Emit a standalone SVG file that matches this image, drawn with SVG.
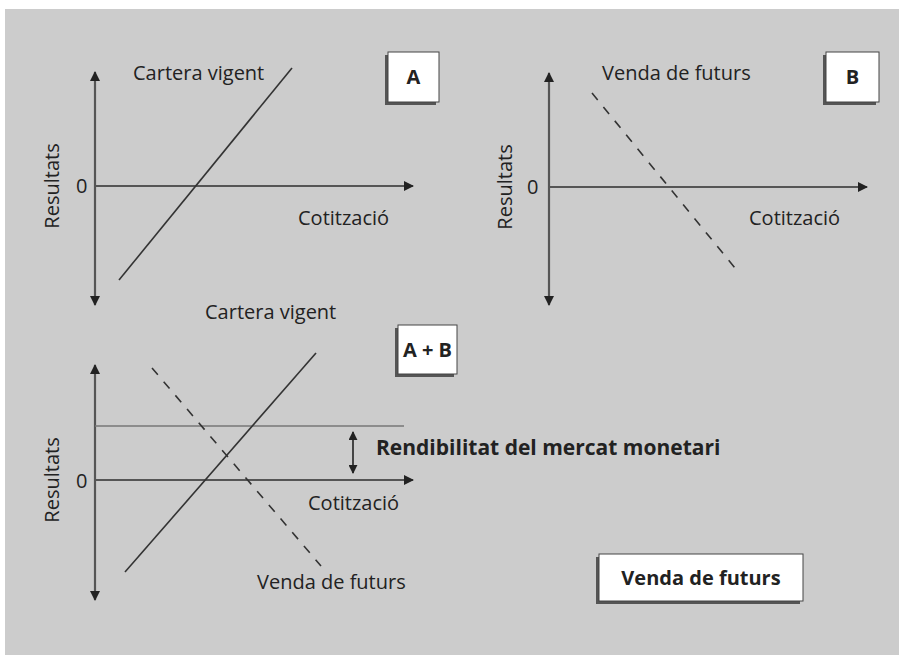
<svg xmlns="http://www.w3.org/2000/svg" width="899" height="655" viewBox="0 0 899 655">
<defs>
<marker id="ah" viewBox="0 0 10 10" refX="9" refY="5" markerWidth="10" markerHeight="10" markerUnits="userSpaceOnUse" orient="auto-start-reverse">
<path d="M0,0 L10,5 L0,10 z" fill="#222"/>
</marker>
<marker id="ahs" viewBox="0 0 10 10" refX="9" refY="5" markerWidth="9" markerHeight="9" markerUnits="userSpaceOnUse" orient="auto-start-reverse">
<path d="M0,0 L10,5 L0,10 z" fill="#222"/>
</marker>
</defs>
<style>
text{font-family:"Open Sans","Liberation Sans",sans-serif;font-size:20px;fill:#222}
.b{font-weight:bold}
.big{font-size:21px}
.axis{stroke:#555;stroke-width:2.2;fill:none}
.ln{stroke:#333;stroke-width:1.6;fill:none}
.ds{stroke:#333;stroke-width:1.6;fill:none;stroke-dasharray:9 9}
.shadow{fill:#555}
.box{fill:#fff;stroke:#444;stroke-width:1}
</style>
<rect x="5" y="9" width="894" height="646" fill="#cccccc"/>
<g id="connectors">
<line class="axis" x1="95" y1="186" x2="95" y2="72" marker-end="url(#ah)"/>
<line class="axis" x1="95" y1="186" x2="95" y2="305" marker-end="url(#ah)"/>
<line class="axis" x1="95" y1="186" x2="413" y2="186" marker-end="url(#ah)"/>
<line class="ln" x1="119" y1="280" x2="292" y2="68"/>
<line class="axis" x1="549" y1="187" x2="549" y2="73" marker-end="url(#ah)"/>
<line class="axis" x1="549" y1="187" x2="549" y2="305" marker-end="url(#ah)"/>
<line class="axis" x1="549" y1="187" x2="867" y2="187" marker-end="url(#ah)"/>
<line class="ds" x1="592" y1="93" x2="735" y2="268"/>
<line class="axis" x1="95" y1="480" x2="95" y2="365" marker-end="url(#ah)"/>
<line class="axis" x1="95" y1="480" x2="95" y2="600" marker-end="url(#ah)"/>
<line class="axis" x1="95" y1="480" x2="413" y2="480" marker-end="url(#ah)"/>
<line x1="95" y1="426" x2="404" y2="426" stroke="#777" stroke-width="1.3"/>
<line x1="353" y1="432" x2="353" y2="473" stroke="#222" stroke-width="1.6" marker-start="url(#ahs)" marker-end="url(#ahs)"/>
<line class="ln" x1="125" y1="572" x2="316" y2="353"/>
<line class="ds" x1="152" y1="368" x2="321" y2="566"/>
</g>
<g id="panelA-labels">
<text x="133" y="80">Cartera vigent</text>
<text x="298" y="225">Cotització</text>
<text x="76" y="193">0</text>
<text transform="translate(59,186) rotate(-90)" text-anchor="middle">Resultats</text>
</g>
<g id="panelB-labels">
<text x="602" y="80">Venda de futurs</text>
<text x="749" y="225">Cotització</text>
<text x="527" y="194">0</text>
<text transform="translate(512,187) rotate(-90)" text-anchor="middle">Resultats</text>
</g>
<g id="panelC-labels">
<text x="205" y="319">Cartera vigent</text>
<text x="308" y="510">Cotització</text>
<text x="257" y="589">Venda de futurs</text>
<text x="76" y="488">0</text>
<text transform="translate(59,480) rotate(-90)" text-anchor="middle">Resultats</text>
<text class="b big" x="376" y="455">Rendibilitat del mercat monetari</text>
</g>
<g id="boxA">
<rect class="shadow" x="385" y="55" width="51" height="50"/>
<rect class="box" x="388" y="52" width="51" height="50"/>
<text class="b" x="413.5" y="84" text-anchor="middle">A</text>
</g>
<g id="boxB">
<rect class="shadow" x="823" y="55" width="53" height="50"/>
<rect class="box" x="826" y="52" width="53" height="50"/>
<text class="b" x="852.5" y="84" text-anchor="middle">B</text>
</g>
<g id="boxAB">
<rect class="shadow" x="395" y="328" width="59" height="49"/>
<rect class="box" x="398" y="325" width="59" height="49"/>
<text class="b" x="427.5" y="357" text-anchor="middle">A + B</text>
</g>
<g id="boxVenda">
<rect class="shadow" x="596" y="557" width="204" height="47"/>
<rect class="box" x="599" y="554" width="204" height="47"/>
<text class="b" x="701" y="585" text-anchor="middle">Venda de futurs</text>
</g>
</svg>
